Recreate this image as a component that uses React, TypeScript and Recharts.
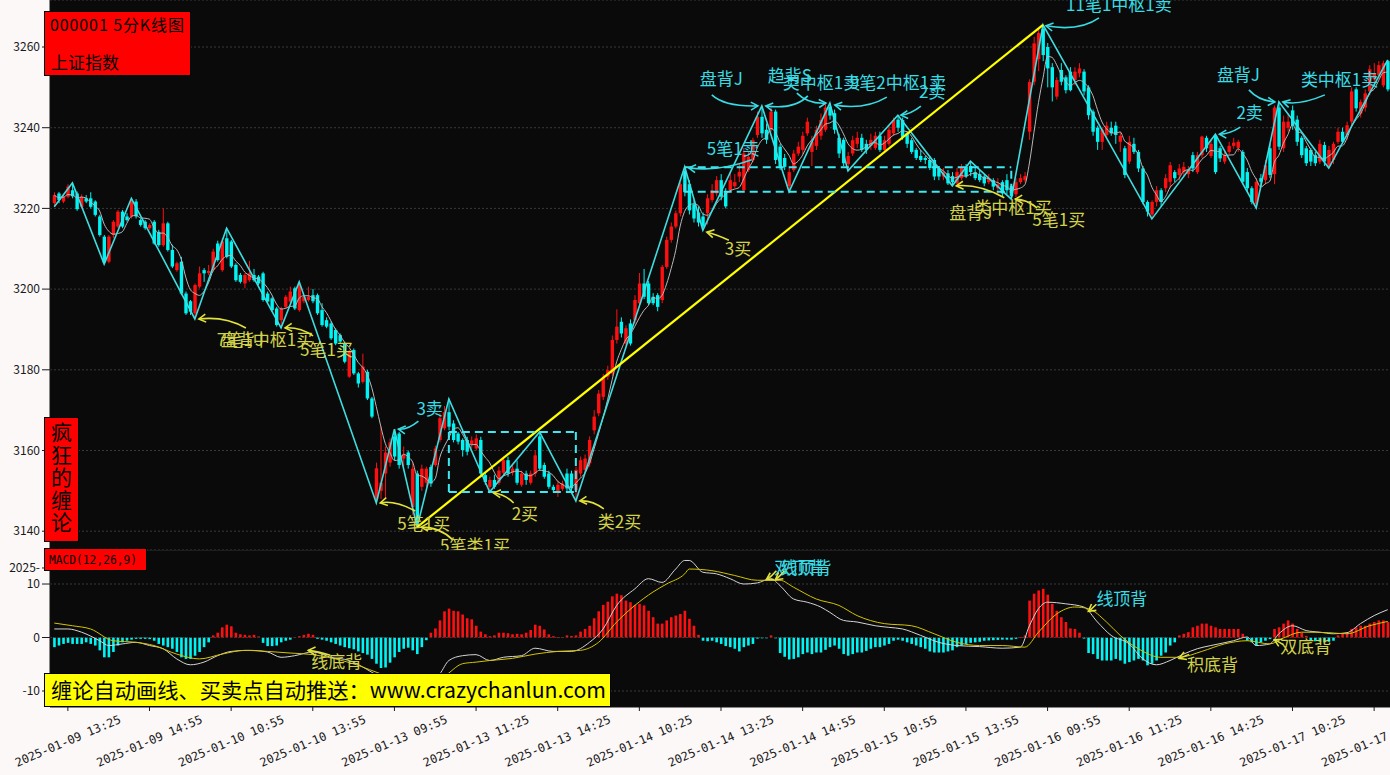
import React from "react";
import {
  ComposedChart,
  Bar,
  Line,
  XAxis,
  YAxis,
  CartesianGrid,
  ReferenceLine,
  ReferenceDot,
} from "recharts";

// ---------------- DATA ----------------
const OPEN = [
  3221.3,3223.7,3221.7,3222.9,3224.5,3223.7,3220.4,3222.5,3222.5,3221.7,
  3218.0,3213.0,3206.8,3213.4,3215.5,3219.2,3218.0,3218.0,3221.7,3217.1,
  3216.7,3215.1,3216.7,3214.2,3210.9,3216.3,3209.7,3204.7,3206.8,3198.9,
  3197.0,3194.0,3200.6,3204.7,3204.0,3204.7,3211.3,3204.7,3212.6,3211.8,
  3206.0,3203.5,3201.4,3202.2,3203.5,3203.1,3203.9,3198.9,3197.7,3195.2,
  3192.3,3195.6,3196.9,3200.2,3194.8,3197.0,3197.3,3198.5,3198.5,3194.8,
  3192.3,3191.5,3189.9,3188.6,3186.5,3178.3,3184.9,3179.1,3177.0,3179.5,
  3172.9,3148.0,3150.0,3154.3,3157.0,3163.5,3164.2,3158.0,3159.5,3146.0,
  3154.3,3151.0,3152.0,3155.9,3156.4,3162.6,3165.5,3169.5,3166.7,3164.2,
  3162.6,3162.6,3161.5,3160.5,3162.6,3153.9,3151.0,3152.7,3152.0,3154.5,
  3157.6,3154.5,3155.5,3151.5,3154.3,3152.0,3154.3,3163.5,3156.4,3154.3,
  3151.0,3149.8,3150.5,3154.3,3154.3,3150.2,3154.3,3155.2,3156.8,3165.0,
  3169.2,3173.3,3178.3,3179.1,3187.4,3191.9,3186.5,3191.5,3192.3,3196.5,
  3201.4,3201.4,3198.1,3198.5,3197.3,3205.5,3212.2,3215.5,3218.8,3229.0,
  3226.0,3221.0,3219.0,3218.0,3218.8,3222.1,3223.7,3227.0,3224.0,3224.5,
  3225.5,3227.9,3224.5,3229.5,3232.0,3238.2,3242.7,3239.5,3239.5,3244.0,
  3235.3,3232.5,3225.5,3229.5,3233.6,3234.5,3238.6,3234.0,3235.5,3238.0,
  3239.5,3245.2,3243.6,3237.5,3237.0,3231.0,3233.6,3236.0,3237.5,3236.0,
  3235.5,3235.0,3238.0,3234.5,3236.0,3238.6,3242.0,3241.9,3238.6,3236.9,
  3234.5,3233.0,3232.5,3232.0,3232.0,3230.0,3227.9,3228.7,3228.0,3226.2,
  3227.5,3230.3,3230.5,3229.0,3228.5,3227.9,3226.5,3227.0,3225.0,3226.5,
  3227.0,3225.5,3223.5,3226.5,3227.0,3239.0,3251.4,3257.0,3264.5,3260.0,
  3255.0,3247.7,3254.3,3252.5,3253.9,3251.8,3253.5,3253.9,3250.0,3244.0,
  3240.0,3236.5,3238.2,3240.0,3240.5,3236.5,3234.9,3231.6,3236.0,3234.0,
  3229.9,3221.6,3218.5,3221.6,3224.5,3225.0,3226.6,3229.0,3228.3,3229.0,
  3228.5,3233.2,3229.0,3233.2,3237.5,3233.0,3238.0,3234.9,3231.6,3234.0,
  3235.5,3235.0,3234.0,3229.0,3225.0,3221.0,3227.5,3227.0,3234.9,3228.5,
  3245.0,3234.9,3240.0,3244.3,3242.0,3237.5,3234.9,3234.5,3233.2,3231.6,
  3235.7,3230.5,3232.0,3236.5,3239.0,3238.2,3241.5,3249.5,3243.5,3245.0,
  3249.0,3252.0,3253.0,3250.5,3256.5,
];
const HIGH = [
  3224.0,3224.1,3223.5,3226.0,3226.3,3224.2,3223.5,3223.3,3224.0,3222.0,
  3218.4,3213.4,3213.4,3217.1,3219.6,3219.6,3218.8,3222.5,3222.3,3217.5,
  3217.1,3216.3,3217.1,3214.7,3220.0,3216.7,3211.0,3206.8,3208.0,3199.4,
  3197.3,3201.4,3205.6,3205.2,3206.0,3210.0,3212.0,3212.6,3215.1,3212.2,
  3206.4,3204.0,3204.0,3207.0,3205.0,3203.5,3204.3,3199.4,3198.1,3195.6,
  3195.6,3198.5,3200.6,3200.6,3201.8,3198.5,3200.6,3200.0,3198.9,3196.5,
  3193.0,3192.0,3190.3,3189.0,3187.0,3185.0,3185.3,3179.5,3184.0,3180.0,
  3173.3,3157.0,3166.0,3161.0,3163.0,3165.3,3164.6,3161.0,3160.0,3157.0,
  3155.0,3156.5,3156.0,3156.5,3161.2,3169.2,3171.0,3172.8,3167.5,3164.6,
  3163.0,3163.4,3163.5,3164.0,3163.4,3154.5,3153.5,3154.0,3156.0,3158.5,
  3158.5,3156.5,3157.5,3155.0,3155.0,3155.0,3160.0,3164.6,3157.0,3155.0,
  3151.5,3152.5,3152.5,3155.5,3155.0,3156.0,3158.5,3159.0,3163.5,3170.0,
  3175.0,3179.0,3181.0,3188.5,3195.0,3193.0,3191.0,3192.5,3198.5,3204.0,
  3205.0,3202.0,3199.0,3199.0,3206.0,3213.0,3216.5,3219.5,3226.5,3230.3,
  3227.0,3222.0,3220.5,3219.0,3223.5,3226.0,3228.0,3228.5,3225.0,3229.0,
  3228.5,3231.0,3235.0,3234.0,3237.5,3244.0,3245.4,3241.0,3245.0,3244.5,
  3236.0,3233.5,3230.0,3234.5,3236.5,3239.0,3242.5,3238.0,3240.5,3243.5,
  3245.8,3246.1,3244.5,3238.5,3237.5,3234.0,3238.0,3239.0,3238.5,3237.0,
  3238.5,3239.0,3239.0,3238.0,3240.5,3242.5,3243.1,3242.5,3239.0,3237.5,
  3235.0,3234.5,3233.0,3233.0,3232.5,3230.5,3230.0,3229.5,3229.0,3230.0,
  3231.0,3231.0,3231.7,3230.0,3229.5,3228.5,3228.5,3227.5,3227.5,3227.0,
  3228.5,3226.0,3227.5,3228.5,3229.0,3252.0,3262.5,3264.5,3265.5,3261.0,
  3256.0,3252.5,3256.0,3253.0,3255.0,3255.0,3256.0,3254.5,3250.5,3244.5,
  3240.5,3240.0,3241.5,3241.5,3241.5,3239.0,3235.5,3238.0,3237.5,3234.5,
  3230.5,3222.0,3222.0,3225.5,3225.0,3228.5,3231.5,3229.5,3231.0,3231.5,
  3230.5,3234.0,3234.0,3238.0,3238.0,3237.0,3238.4,3235.5,3234.0,3236.5,
  3237.5,3237.0,3234.5,3230.0,3225.5,3227.5,3228.5,3232.0,3236.0,3245.5,
  3246.4,3243.0,3243.5,3245.5,3243.0,3238.0,3235.5,3235.0,3234.0,3237.0,
  3236.5,3235.5,3236.5,3240.0,3240.0,3241.5,3250.0,3250.0,3247.0,3249.5,
  3255.5,3256.0,3256.5,3256.6,3256.8,
];
const LOW = [
  3220.4,3221.3,3221.3,3222.5,3222.5,3219.4,3220.0,3221.3,3220.0,3218.0,
  3213.0,3206.2,3206.4,3212.6,3215.1,3215.1,3216.7,3217.5,3217.5,3215.5,
  3214.7,3214.7,3211.0,3210.5,3210.5,3209.3,3205.2,3204.3,3198.5,3193.6,
  3193.6,3192.6,3200.2,3201.8,3203.5,3204.3,3206.8,3204.3,3207.6,3205.2,
  3201.8,3201.4,3200.2,3201.8,3201.8,3201.0,3196.9,3196.5,3194.4,3190.7,
  3190.4,3195.2,3196.5,3194.8,3194.4,3196.5,3196.9,3196.5,3193.6,3190.7,
  3190.3,3187.4,3186.1,3186.5,3181.6,3178.0,3178.7,3175.6,3176.6,3172.5,
  3168.0,3147.0,3148.0,3148.0,3156.0,3157.6,3155.5,3156.0,3155.5,3144.0,
  3141.0,3150.0,3151.0,3151.0,3156.0,3162.0,3165.0,3165.0,3162.0,3161.5,
  3158.5,3158.8,3160.5,3160.0,3153.5,3151.5,3149.7,3150.5,3151.5,3154.0,
  3153.5,3153.8,3151.5,3151.0,3151.5,3151.5,3153.5,3155.0,3153.0,3150.5,
  3149.8,3148.5,3150.0,3150.0,3149.5,3147.5,3153.5,3154.5,3156.0,3164.0,
  3168.5,3172.5,3177.5,3178.5,3186.5,3188.0,3186.0,3186.0,3191.5,3196.0,
  3197.5,3196.0,3196.0,3194.5,3196.5,3205.0,3211.5,3215.0,3218.0,3223.0,
  3218.5,3216.5,3215.5,3214.6,3216.0,3221.5,3223.0,3222.0,3220.0,3224.0,
  3225.0,3226.5,3224.0,3229.0,3231.5,3237.5,3237.5,3236.0,3239.0,3231.0,
  3229.5,3229.5,3224.1,3229.0,3233.0,3233.5,3238.0,3230.5,3234.5,3237.0,
  3239.0,3242.0,3238.5,3232.5,3230.5,3229.3,3233.0,3235.0,3234.0,3233.5,
  3234.5,3234.5,3234.0,3234.0,3235.5,3238.0,3239.0,3237.0,3235.0,3233.5,
  3232.0,3231.5,3231.0,3229.5,3227.0,3227.0,3227.0,3225.8,3225.6,3226.0,
  3227.0,3227.5,3228.0,3227.0,3226.5,3225.5,3226.0,3224.5,3223.5,3223.0,
  3223.5,3222.3,3222.8,3226.0,3226.5,3237.0,3250.5,3254.0,3256.5,3250.0,
  3246.5,3247.0,3250.5,3248.5,3249.0,3250.5,3252.5,3248.0,3242.0,3238.0,
  3234.5,3234.5,3237.5,3238.0,3236.0,3234.0,3227.5,3231.0,3233.5,3229.0,
  3221.0,3218.0,3217.4,3220.5,3220.5,3224.0,3225.0,3226.5,3227.0,3228.0,
  3227.5,3229.0,3228.5,3232.5,3234.0,3232.5,3228.5,3231.5,3231.0,3233.5,
  3234.8,3234.0,3226.0,3224.0,3221.0,3220.1,3225.5,3226.0,3227.5,3226.0,
  3234.5,3234.0,3239.0,3239.5,3235.5,3232.5,3230.5,3230.5,3230.5,3231.0,
  3230.5,3230.0,3231.0,3236.0,3236.0,3237.0,3240.5,3244.0,3242.5,3244.0,
  3248.0,3251.0,3252.0,3250.0,3249.0,
];
const CLOSE = [
  3223.3,3222.1,3222.9,3225.4,3223.0,3219.8,3222.9,3221.7,3220.4,3218.4,
  3213.4,3206.6,3213.0,3216.7,3219.2,3215.5,3217.1,3221.7,3218.0,3215.9,
  3215.1,3215.9,3211.3,3210.9,3216.3,3209.7,3205.6,3206.4,3198.9,3194.0,
  3194.4,3201.0,3203.9,3203.9,3204.5,3209.3,3207.2,3211.8,3208.0,3205.6,
  3202.2,3201.8,3203.5,3203.9,3202.2,3201.4,3197.3,3196.9,3194.8,3191.1,
  3195.2,3198.1,3199.4,3195.2,3201.0,3198.1,3198.1,3197.0,3194.0,3191.1,
  3190.7,3187.8,3186.5,3187.0,3182.0,3184.5,3179.1,3176.6,3180.8,3172.9,
  3168.4,3155.6,3152.0,3159.5,3162.0,3158.5,3156.4,3159.0,3156.4,3155.5,
  3142.0,3155.5,3155.5,3151.8,3160.5,3168.0,3169.5,3165.9,3162.6,3162.2,
  3160.1,3159.7,3162.5,3163.0,3154.3,3152.2,3152.7,3151.0,3155.0,3157.6,
  3154.3,3155.5,3152.0,3154.3,3152.7,3154.3,3158.8,3155.5,3153.5,3151.0,
  3150.2,3151.5,3151.8,3150.6,3150.6,3155.2,3157.6,3158.0,3162.6,3168.4,
  3174.1,3177.9,3179.9,3187.4,3190.7,3189.0,3190.3,3186.5,3197.3,3201.4,
  3198.1,3196.5,3196.5,3195.6,3205.5,3212.2,3215.5,3218.8,3226.0,3224.0,
  3219.5,3217.5,3216.5,3215.5,3222.5,3224.5,3227.0,3222.9,3220.5,3227.0,
  3226.5,3229.0,3233.6,3232.8,3236.9,3242.7,3238.6,3237.0,3244.0,3232.0,
  3230.3,3230.3,3229.0,3233.6,3235.3,3238.0,3241.5,3236.5,3239.5,3241.9,
  3245.0,3243.0,3239.5,3233.6,3231.2,3233.0,3236.9,3237.5,3234.5,3234.5,
  3237.0,3238.0,3234.5,3236.9,3239.5,3241.9,3240.0,3237.7,3236.0,3234.0,
  3232.5,3232.0,3232.0,3230.0,3227.9,3227.9,3229.0,3226.2,3226.5,3229.0,
  3230.0,3228.0,3229.0,3227.5,3227.0,3226.2,3227.5,3225.4,3226.0,3223.7,
  3224.5,3223.0,3226.5,3227.5,3228.0,3251.3,3260.9,3263.5,3258.0,3254.7,
  3250.0,3251.8,3251.4,3249.3,3249.3,3253.9,3254.7,3249.0,3243.1,3239.0,
  3236.5,3239.5,3240.5,3238.6,3238.2,3238.0,3228.3,3236.5,3234.0,3229.9,
  3221.6,3219.2,3221.6,3224.5,3221.6,3227.5,3230.7,3227.5,3229.9,3230.3,
  3229.5,3229.9,3233.2,3237.8,3234.9,3236.0,3229.0,3232.4,3233.2,3235.5,
  3236.3,3236.5,3226.6,3225.0,3221.6,3226.6,3226.6,3230.7,3228.3,3245.0,
  3235.3,3241.5,3241.5,3240.5,3236.5,3233.2,3231.2,3231.6,3231.2,3236.0,
  3231.6,3234.5,3236.0,3239.0,3236.5,3240.6,3249.0,3244.8,3246.4,3248.5,
  3254.5,3253.5,3255.5,3256.0,3249.5,
];

// zigzag (bi) vertices
const BI_IDX = [0,4,11,17,31,38,50,54,71,75,80,87,96,107,115,139,143,156,162,171,175,186,198,202,211,218,242,256,265,270,281,294];
const BI_VAL = [3220.4,3226.3,3206.2,3222.5,3192.6,3215.1,3190.4,3201.8,3147.0,3165.3,3141.0,3172.8,3149.7,3164.6,3147.5,3230.3,3214.6,3245.4,3224.1,3246.1,3229.3,3243.1,3225.6,3231.7,3222.3,3265.5,3217.4,3238.4,3220.1,3246.4,3230.0,3256.8];
// segment (xianduan)
const SEG_IDX = [80, 218];
const SEG_VAL = [3141.0, 3265.5];
// zhongshu boxes
const ZS_FROM = [87, 139];
const ZS_TO = [115, 211];
const ZS_LOW = [3149.7, 3224.1];
const ZS_HIGH = [3164.6, 3230.2];

// MACD
const MACD_HIST = [
  -1.8,-1.5,-1.2,-1.0,-1.2,-1.2,-1.2,-0.9,-1.2,-1.5,
  -2.4,-3.7,-3.7,-2.7,-1.5,-0.9,-0.6,-0.4,-0.25,-0.25,
  -0.25,-0.3,-0.6,-1.2,-1.5,-1.8,-2.1,-2.7,-3.7,-4.0,
  -4.0,-3.4,-2.7,-1.8,-0.9,0.4,0.9,1.9,2.4,2.1,
  0.9,0.6,0.5,0.4,0.5,0.2,-1.0,-1.6,-1.6,-1.5,
  -0.9,-0.6,-0.4,0.1,0.25,0.5,0.7,0.5,-0.25,-0.4,
  -0.6,-0.9,-1.2,-1.5,-1.8,-2.0,-2.2,-2.6,-2.9,-3.2,
  -4.0,-4.9,-5.7,-5.6,-4.7,-3.7,-2.7,-2.1,-1.9,-2.4,
  -3.1,-1.8,-0.5,0.9,1.7,3.2,4.9,5.4,5.0,4.9,
  4.3,3.6,3.4,2.2,1.1,0.6,0.25,0.4,0.9,0.9,
  0.8,0.6,0.7,0.6,0.9,1.4,2.4,2.2,1.5,0.6,
  0.25,0.05,0.05,0.4,0.3,0.4,1.1,1.6,2.2,3.6,
  4.9,6.1,6.7,7.7,8.2,7.9,6.9,6.6,6.1,6.3,
  6.0,5.0,3.8,2.6,2.6,3.2,3.8,4.1,4.4,5.0,
  3.5,2.2,0.5,-0.6,-0.7,-0.6,-0.9,-1.2,-1.6,-1.8,
  -2.1,-2.6,-1.8,-1.5,-1.2,-0.2,-0.1,-0.1,0.4,-0.1,
  -2.9,-3.6,-4.1,-4.0,-3.7,-3.1,-2.8,-3.1,-2.8,-2.8,
  -2.3,-1.8,-1.5,-2.1,-3.1,-3.4,-3.1,-2.8,-2.8,-2.5,
  -2.1,-1.8,-1.8,-1.5,-1.2,-0.6,-0.4,-0.6,-0.9,-1.2,
  -1.5,-1.8,-2.1,-2.6,-2.8,-2.8,-2.8,-2.6,-2.4,-1.8,
  -1.5,-1.2,-1.0,-0.9,-0.8,-0.6,-0.55,-0.5,-0.45,-0.4,
  -0.4,-0.4,-0.25,0.1,0.4,6.9,8.2,8.8,9.1,8.0,
  6.3,5.0,3.8,2.9,1.7,1.6,0.9,-0.2,-2.9,-3.1,
  -4.0,-4.3,-4.3,-4.3,-4.0,-4.3,-4.9,-4.6,-4.3,-4.0,
  -4.3,-5.2,-4.9,-4.3,-3.4,-2.8,-1.5,-0.9,0.4,0.7,
  1.0,1.9,2.2,2.6,2.6,2.2,1.9,1.6,1.6,1.6,
  1.6,1.6,0.7,-0.6,-0.9,-1.5,-0.9,-0.6,-0.3,1.6,
  1.9,2.6,3.2,2.6,1.6,0.9,0.3,-0.6,-0.7,-0.8,
  -0.9,-0.8,-0.6,0.4,0.7,1.0,1.6,1.9,2.2,2.2,
  2.6,2.9,3.2,3.2,2.9,
];
const DIF_IDX = [0,3,6,10,12,15,18,21,24,27,30,33,36,39,43,47,50,53,57,61,65,68,72,76,80,83,85,87,90,93,96,99,103,106,110,114,118,121,124,128,131,134,137,139,140,143,146,149,152,155,158,160,163,166,169,171,174,177,181,184,187,191,195,199,204,209,213,215,217,219,223,227,230,233,237,240,243,246,249,252,255,260,263,265,268,270,273,276,279,282,285,288,291,294];
const DIF_VAL = [1.6,1.6,1.0,-0.6,-1.5,-1.2,-0.9,-1.5,-2.1,-4.0,-5.1,-4.6,-3.4,-2.6,-2.4,-2.7,-3.7,-3.4,-2.7,-3.7,-4.3,-5.5,-7.5,-9.2,-9.5,-8.3,-6.8,-4.3,-3.4,-3.2,-4.3,-3.7,-3.4,-2.0,-2.6,-2.6,-0.9,1.6,6.0,9.1,11.0,10.3,12.8,14.4,14.4,12.2,11.9,11.0,10.0,10.2,11.0,9.7,7.2,6.6,5.7,4.7,3.2,2.9,2.2,1.9,1.6,0.4,-0.9,-1.5,-1.7,-2.0,-1.8,2.2,5.4,6.6,6.3,5.7,2.9,0.4,-1.2,-4.0,-5.1,-4.3,-3.1,-2.1,-1.5,-0.6,0.1,-1.5,-1.2,0.7,2.2,1.3,1.0,0.7,0.9,2.6,4.1,5.2];
const DEA_IDX = [0,4,8,13,18,22,27,32,37,42,47,52,57,62,67,72,77,82,86,90,93,96,101,106,111,116,120,124,128,132,135,139,140,145,150,155,160,163,168,173,177,183,189,194,199,204,209,214,217,221,225,228,232,235,239,244,248,253,258,263,268,271,275,281,285,290,294];
const DEA_VAL = [2.7,2.2,1.6,-0.6,-0.9,-1.5,-3.1,-4.0,-3.1,-2.4,-2.6,-2.9,-3.2,-4.0,-5.2,-6.8,-8.0,-8.4,-7.2,-4.9,-4.6,-4.3,-3.9,-3.1,-2.6,-2.4,-0.9,2.9,6.0,8.5,10.0,11.9,12.8,12.5,11.6,10.7,10.7,9.4,7.2,6.0,4.1,2.6,2.2,0.7,-0.9,-1.5,-1.5,-1.8,1.0,4.4,5.7,5.4,2.9,0.4,-2.1,-3.7,-3.7,-2.6,-1.2,-0.6,-1.2,-0.1,1.0,0.9,0.7,2.2,3.0];

// axes
const TICK_IDX = [3,21,39,57,75,93,111,129,147,165,183,201,219,237,255,273,291];
const TICK_LABELS = [
  "2025-01-09 13:25","2025-01-09 14:55","2025-01-10 10:55","2025-01-10 13:55",
  "2025-01-13 09:55","2025-01-13 11:25","2025-01-13 14:25","2025-01-14 10:25",
  "2025-01-14 13:25","2025-01-14 14:55","2025-01-15 10:55","2025-01-15 13:55",
  "2025-01-16 09:55","2025-01-16 11:25","2025-01-16 14:25","2025-01-17 10:25",
  "2025-01-17 13:25",
];
const PRICE_TICKS = [3140,3160,3180,3200,3220,3240,3260];
const MACD_TICKS = [-10,0,10,13];
const MACD_GRID = [-10,0,10];

// annotations (text, target bar, target value, kind: s=sell/cyan, b=buy/yellow)
const MAIN_NOTE_TEXT = ["11笔1中枢1卖","盘背J","趋背S","类中枢1卖","9笔2中枢1卖","2卖","5笔1卖","3买","盘背J","类中枢1买","5笔1买","7笔1中枢1买","盘背J","5笔1买","3卖","5笔1买","5笔类1买","2买","类2买","2卖","盘背J","类中枢1卖"];
const MAIN_NOTE_BAR = [218,156,156,171,171,186,139,143,198,211,211,31,31,50,75,71,80,96,115,256,270,270];
const MAIN_NOTE_VAL = [3265.5,3245.4,3245.4,3246.1,3246.1,3243.1,3230.3,3214.6,3225.6,3222.3,3222.3,3192.6,3192.6,3190.4,3165.3,3147.0,3141.0,3149.7,3147.5,3238.4,3246.4,3246.4];
const MAIN_NOTE_KIND = ["s","s","s","s","s","s","s","b","b","b","b","b","b","b","s","b","b","b","b","s","s","s"];
const MACD_NOTE_TEXT = ["线底背","双顶背","线顶背","线顶背","积底背","双底背"];
const MACD_NOTE_BAR = [56,157,159,228,248,269];
const MACD_NOTE_VAL = [-2.4,10.8,10.8,4.9,-3.9,-0.4];
const MACD_NOTE_KIND = ["b","s","s","s","b","b"];

// ---------------- LAYOUT (pixel offsets from target) ----------------
// [textX, textY, arrowStartX, arrowStartY, ctrlX, ctrlY, endX, endY] ; null arrow => text only
const MAIN_NOTE_LAYOUT: (number | null)[][] = [
  [23,-14, 56,-7, 36,7, 3,1],
  [-62,-21, -50,-11, -37,1, -4,0],
  [6,-24, 46,-10, 33,4, 4,0],
  [-47,-14, -33,-10, -22,1, -4,0],
  [20,-14, 57,-6, 35,7, 5,2],
  [21,-17, 23,-9, 13,-1, 3,0],
  [22,-12, 67,-7, 35,5, 4,1],
  [22,25, 26,10, 13,4, 4,2],
  [-3,33, 52,12, 27,-2, 4,0],
  [-37,15, 26,9, 15,0, 4,0],
  [21,27, null,null,null,null,null,null],
  [22,27, 51,9, 30,-3, 4,0],
  [26,27, null,null,null,null,null,null],
  [19,28, 32,8, 19,-1, 4,0],
  [22,-14, 24,-8, 13,1, 4,0],
  [21,27, 39,8, 18,-3, 4,0],
  [23,25, 36,13, 23,0, 4,0],
  [22,28, 24,11, 15,2, 4,1],
  [22,27, 28,8, 16,-1, 4,0],
  [21,-15, 25,-7, 14,0, 4,0],
  [-62,-21, -30,-12, -20,-1, -4,0],
  [22,-16, 46,-7, 20,4, 4,0],
];
const MACD_NOTE_LAYOUT: (number | null)[][] = [
  [3,18, 22,5, 10,1, 0,0],
  [8,-6, 10,-9, 5,-3, 0,0],
  [5,-6, 9,-9, 4,-3, 0,0],
  [8,-6, 8,-7, 4,-3, 0,0],
  [8,13, 10,-4, 5,-2, 0,0],
  [6,13, 9,5, 4,2, 0,0],
];

// ---------------- STYLE ----------------
const RED = "#ff1010";
const CYAN = "#00f4f4";
const BI_COLOR = "#3fdde0";
const TXT_CYAN = "#38dce4";
const TXT_YEL = "#d2d24a";
const ARROW_YEL = "#e2e23a";
const FONT = "'Noto Sans CJK SC','Noto Sans',sans-serif";
const MONO = "'DejaVu Sans Mono','Liberation Mono',monospace";
const N = OPEN.length;

const rows = Array.from({ length: N }, (_, i) => {
  let s = 0, cnt = 0;
  for (let k = Math.max(0, i - 4); k <= i; k++) { s += CLOSE[k]; cnt++; }
  const bi = BI_IDX.indexOf(i);
  const sg = SEG_IDX.indexOf(i);
  const df = DIF_IDX.indexOf(i);
  const de = DEA_IDX.indexOf(i);
  return {
    i,
    o: OPEN[i], h: HIGH[i], l: LOW[i], c: CLOSE[i],
    ma: s / cnt,
    bi: bi >= 0 ? BI_VAL[bi] : null,
    seg: sg >= 0 ? SEG_VAL[sg] : null,
    hist: MACD_HIST[i],
    dif: df >= 0 ? DIF_VAL[df] : null,
    dea: de >= 0 ? DEA_VAL[de] : null,
  };
});

const Candle = (p: any) => {
  const { x, y, width, height, payload } = p;
  if (!payload || x == null) return null;
  const { o, h, l, c } = payload;
  const top = Math.min(y, y + height);
  const hh = Math.abs(height);
  const span = h - l;
  const toY = (v: number) => (span > 0 ? top + ((h - v) / span) * hh : top);
  const cx = x + width / 2;
  const color = c >= o ? RED : CYAN;
  const bt = toY(Math.max(o, c));
  const bb = toY(Math.min(o, c));
  const bw = 3.4;
  return (
    <g>
      <line x1={cx} x2={cx} y1={top} y2={top + hh} stroke={color} strokeWidth={1} />
      <rect x={cx - bw / 2} y={bt} width={bw} height={Math.max(bb - bt, 1)} fill={color} />
    </g>
  );
};

const HistBar = (p: any) => {
  const { x, y, width, height, payload } = p;
  if (!payload || x == null) return null;
  const top = Math.min(y, y + height);
  const hh = Math.max(Math.abs(height), 0.8);
  const cx = x + width / 2;
  const bw = 2.6;
  return <rect x={cx - bw / 2} y={top} width={bw} height={hh} fill={payload.hist >= 0 ? RED : CYAN} />;
};

const makeNote = (text: string, lay: (number | null)[], txtColor: string, arrowColor: string, size: number) =>
  (p: any) => {
    const { cx, cy } = p;
    if (cx == null || cy == null) return <g />;
    const [tx, ty, sx, sy, qx, qy, ex, ey] = lay as number[];
    let arrow = null;
    if (lay[2] != null) {
      const X0 = cx + sx, Y0 = cy + sy, QX = cx + qx, QY = cy + qy, EX = cx + ex, EY = cy + ey;
      const dx = EX - QX, dy = EY - QY;
      const len = Math.hypot(dx, dy) || 1;
      const ux = dx / len, uy = dy / len;
      const a = (30 * Math.PI) / 180;
      const hl = 8;
      const h1x = EX - hl * (ux * Math.cos(a) - uy * Math.sin(a));
      const h1y = EY - hl * (uy * Math.cos(a) + ux * Math.sin(a));
      const h2x = EX - hl * (ux * Math.cos(a) + uy * Math.sin(a));
      const h2y = EY - hl * (uy * Math.cos(a) - ux * Math.sin(a));
      arrow = (
        <g stroke={arrowColor} strokeWidth={1.6} fill="none">
          <path d={`M${X0},${Y0} Q${QX},${QY} ${EX},${EY}`} />
          <path d={`M${h1x},${h1y} L${EX},${EY} L${h2x},${h2y}`} />
        </g>
      );
    }
    return (
      <g>
        {arrow}
        <text x={cx + tx} y={cy + ty} fill={txtColor} fontSize={size} fontFamily={FONT}>
          {text}
        </text>
      </g>
    );
  };

const TimeTick = (p: any) => {
  const { x, y, payload } = p;
  const k = TICK_IDX.indexOf(payload.value);
  const label = k >= 0 ? TICK_LABELS[k] : "";
  return (
    <g transform={`translate(${x},${y + 28}) rotate(-23)`}>
      <text textAnchor="middle" dominantBaseline="central" fontSize={11.8} fontFamily={MONO} fill="#1a1a1a">
        {label}
      </text>
    </g>
  );
};

export default function App() {
  return (
    <div
      style={{
        position: "absolute",
        left: 0,
        top: 0,
        width: 1390,
        height: 775,
        overflow: "hidden",
        background: "#fcf8f8",
      }}
    >
      {/* main K-line panel */}
      <div style={{ position: "absolute", left: 0, top: 0 }}>
        <ComposedChart width={1390} height={550} data={rows} margin={{ top: 0, right: 0, left: 0, bottom: 0 }}>
          <CartesianGrid vertical={false} stroke="#3a3a3a" strokeDasharray="2 2" fill="#0a0a0a" />
          <XAxis
            dataKey="i"
            type="category"
            ticks={TICK_IDX}
            interval={0}
            padding={{ left: 2, right: 0 }}
            height={0}
            tick={false}
            tickLine={false}
            axisLine={false}
          />
          <YAxis
            domain={[3135.34, 3271.65]}
            ticks={PRICE_TICKS}
            interval={0}
            allowDataOverflow
            width={50}
            tickSize={8}
            tickMargin={2}
            tick={{ fontSize: 12, fill: "#1a1a1a", fontFamily: FONT }}
            tickLine={{ stroke: "#1a1a1a" }}
            axisLine={{ stroke: "#111" }}
          />
          <Bar dataKey={(d: any) => [d.l, d.h]} shape={(p: any) => <Candle {...p} />} isAnimationActive={false} />
          <Line dataKey="ma" stroke="#b8b8b8" strokeWidth={1} dot={false} isAnimationActive={false} type="monotone" />
          <Line dataKey="bi" stroke={BI_COLOR} strokeWidth={1.6} dot={false} connectNulls isAnimationActive={false} type="linear" />
          <Line dataKey="seg" stroke="#ffff00" strokeWidth={2.2} dot={false} connectNulls isAnimationActive={false} type="linear" />
          {ZS_FROM.map((f, k) => (
            <ReferenceLine key={`zt${k}`} segment={[{ x: f, y: ZS_HIGH[k] }, { x: ZS_TO[k], y: ZS_HIGH[k] }]} stroke="#3ee8f0" strokeWidth={2} strokeDasharray="8 5" />
          ))}
          {ZS_FROM.map((f, k) => (
            <ReferenceLine key={`zb${k}`} segment={[{ x: f, y: ZS_LOW[k] }, { x: ZS_TO[k], y: ZS_LOW[k] }]} stroke="#3ee8f0" strokeWidth={2} strokeDasharray="8 5" />
          ))}
          {ZS_FROM.map((f, k) => (
            <ReferenceLine key={`zl${k}`} segment={[{ x: f, y: ZS_LOW[k] }, { x: f, y: ZS_HIGH[k] }]} stroke="#3ee8f0" strokeWidth={2} strokeDasharray="8 5" />
          ))}
          {ZS_FROM.map((f, k) => (
            <ReferenceLine key={`zr${k}`} segment={[{ x: ZS_TO[k], y: ZS_LOW[k] }, { x: ZS_TO[k], y: ZS_HIGH[k] }]} stroke="#3ee8f0" strokeWidth={2} strokeDasharray="8 5" />
          ))}
          {MAIN_NOTE_TEXT.map((t, k) => {
            const isSell = MAIN_NOTE_KIND[k] === "s";
            return (
              <ReferenceDot
                key={`mn${k}`}
                x={MAIN_NOTE_BAR[k]}
                y={MAIN_NOTE_VAL[k]}
                r={0}
                shape={makeNote(t, MAIN_NOTE_LAYOUT[k], isSell ? TXT_CYAN : TXT_YEL, isSell ? TXT_CYAN : ARROW_YEL, 17)}
              />
            );
          })}
        </ComposedChart>
      </div>

      {/* MACD panel */}
      <div style={{ position: "absolute", left: 0, top: 550 }}>
        <ComposedChart width={1390} height={225} data={rows} margin={{ top: 0, right: 0, left: 0, bottom: 0 }}>
          <CartesianGrid horizontal={false} vertical={false} fill="#0a0a0a" />
          <XAxis
            dataKey="i"
            type="category"
            ticks={TICK_IDX}
            interval={0}
            padding={{ left: 2, right: 0 }}
            height={68}
            tickSize={4}
            tickMargin={2}
            tick={(p: any) => <TimeTick {...p} />}
            tickLine={{ stroke: "#1a1a1a" }}
            axisLine={{ stroke: "#111" }}
          />
          <YAxis
            domain={[-12.99, 16.36]}
            ticks={MACD_TICKS}
            interval={0}
            allowDataOverflow
            width={50}
            tickSize={8}
            tickMargin={2}
            tickFormatter={(v: number) => (v === 13 ? "2025-" : String(v))}
            tick={{ fontSize: 12, fill: "#1a1a1a", fontFamily: FONT }}
            tickLine={{ stroke: "#1a1a1a" }}
            axisLine={{ stroke: "#111" }}
          />
          {MACD_GRID.map((v) => (
            <ReferenceLine key={`g${v}`} y={v} stroke="#3a3a3a" strokeDasharray="2 2" />
          ))}
          <Bar dataKey="hist" shape={(p: any) => <HistBar {...p} />} isAnimationActive={false} />
          <Line dataKey="dif" stroke="#d4d4d4" strokeWidth={1} dot={false} connectNulls isAnimationActive={false} type="monotone" />
          <Line dataKey="dea" stroke="#d2c400" strokeWidth={1} dot={false} connectNulls isAnimationActive={false} type="monotone" />
          {MACD_NOTE_TEXT.map((t, k) => (
            <ReferenceDot
              key={`an${k}`}
              x={MACD_NOTE_BAR[k]}
              y={MACD_NOTE_VAL[k]}
              r={0}
              shape={makeNote(t, MACD_NOTE_LAYOUT[k], MACD_NOTE_KIND[k] === "s" ? TXT_CYAN : TXT_YEL, ARROW_YEL, 17)}
            />
          ))}
        </ComposedChart>
      </div>

      {/* static labels */}
      <svg width={1390} height={775} style={{ position: "absolute", left: 0, top: 0, pointerEvents: "none" }}>
        <line x1={50} x2={1390} y1={550.5} y2={550.5} stroke="#1e1e1e" strokeWidth={1} />
        <rect x={44.5} y={11.5} width={146} height={64} fill="#ff0000" stroke="#000" />
        <text x={50} y={31} fontSize={16} fontFamily={FONT} fill="#000" textLength={134} lengthAdjust="spacing">000001 5分K线图</text>
        <text x={51} y={69} fontSize={17} fontFamily={FONT} fill="#000">上证指数</text>
        <rect x={44.5} y={417.5} width={34} height={124} fill="#ff0000" stroke="#000" />
        {["疯", "狂", "的", "缠", "论"].map((ch, k) => (
          <text key={ch} x={61.5} y={440 + k * 22.6} fontSize={21} textAnchor="middle" fontFamily={FONT} fill="#000">
            {ch}
          </text>
        ))}
        <rect x={44.5} y={548.5} width={102} height={22} fill="#ff0000" stroke="#000" />
        <text x={49} y={564} fontSize={12.5} fontFamily={MONO} fill="#000" textLength={88} lengthAdjust="spacingAndGlyphs">
          MACD(12,26,9)
        </text>
        <rect x={44.5} y={673.5} width={566} height={33} fill="#ffff00" stroke="#000" />
        <text x={51} y={698} fontSize={21} fontFamily={FONT} fill="#000" textLength={555} lengthAdjust="spacingAndGlyphs">
          缠论自动画线、买卖点自动推送：www.crazychanlun.com
        </text>
      </svg>
    </div>
  );
}
